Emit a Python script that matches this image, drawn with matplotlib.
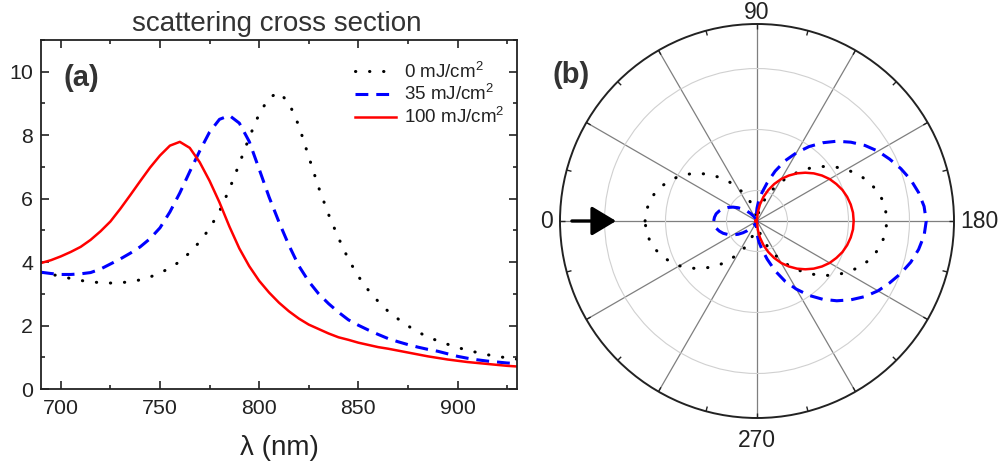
import numpy as np
import matplotlib
matplotlib.use("Agg")
import matplotlib.pyplot as plt
from matplotlib.ticker import MultipleLocator

plt.rcParams['font.family'] = ['Liberation Sans', 'DejaVu Sans']
plt.rcParams['mathtext.fontset'] = 'custom'
plt.rcParams['mathtext.rm'] = 'Liberation Sans'

# ---------------- data: panel (a) ----------------
wavelength = [690, 695, 700, 705, 710, 715, 720, 725, 730, 735, 740, 745, 750, 755,
              760, 765, 770, 775, 780, 785, 790, 795, 800, 805, 810, 815, 820, 825,
              830, 835, 840, 845, 850, 855, 860, 865, 870, 875, 880, 885, 890, 895,
              900, 905, 910, 915, 920, 925, 930]
sigma_0 = [3.66, 3.61, 3.56, 3.48, 3.42, 3.38, 3.35, 3.34, 3.35, 3.38, 3.44, 3.53, 3.66, 3.81,
           4.02, 4.30, 4.64, 5.06, 5.60, 6.30, 7.10, 7.93, 8.67, 9.18, 9.35, 9.02, 8.30, 7.32,
           6.35, 5.50, 4.76, 4.09, 3.55, 3.12, 2.76, 2.45, 2.21, 1.99, 1.80, 1.64, 1.52, 1.41,
           1.31, 1.22, 1.15, 1.08, 1.03, 0.98, 0.94]
sigma_35 = [3.68, 3.64, 3.61, 3.61, 3.63, 3.67, 3.78, 3.94, 4.10, 4.28, 4.48, 4.74, 5.08, 5.58,
            6.18, 6.85, 7.50, 8.10, 8.50, 8.62, 8.38, 7.80, 6.93, 6.05, 5.26, 4.53, 3.88, 3.39,
            3.00, 2.69, 2.42, 2.18, 2.01, 1.86, 1.72, 1.59, 1.49, 1.40, 1.32, 1.25, 1.19, 1.11,
            1.03, 0.97, 0.92, 0.88, 0.85, 0.82, 0.80]
sigma_100 = [3.97, 4.06, 4.18, 4.32, 4.48, 4.70, 4.97, 5.28, 5.68, 6.11, 6.55, 6.98, 7.36, 7.67,
             7.79, 7.60, 7.15, 6.56, 5.88, 5.12, 4.43, 3.87, 3.41, 3.04, 2.72, 2.45, 2.22, 2.03,
             1.89, 1.75, 1.63, 1.55, 1.46, 1.39, 1.32, 1.27, 1.21, 1.15, 1.09, 1.03, 0.98, 0.93,
             0.89, 0.85, 0.82, 0.79, 0.76, 0.73, 0.71]
labels = ['0 mJ/cm$^2$', '35 mJ/cm$^2$', '100 mJ/cm$^2$']

# ---------------- data: panel (b), angles 0..180 deg (pattern symmetric) ----------------
angle_half = list(range(0, 185, 5))
pol_0 = [3.67, 3.65, 3.58, 3.48, 3.33, 3.15, 2.94, 2.69, 2.43, 2.14, 1.85, 1.55, 1.25, 0.97,
         0.70, 0.45, 0.24, 0.08, 0.02,
         0.09, 0.26, 0.49, 0.77, 1.07, 1.41, 1.75, 2.10, 2.45, 2.78, 3.10, 3.38, 3.64, 3.86,
         4.03, 4.16, 4.23, 4.26]
pol_35 = [1.42, 1.40, 1.36, 1.28, 1.18, 1.05, 0.91, 0.76, 0.60, 0.45, 0.31, 0.19, 0.09, 0.03,
          0.00, 0.02, 0.08, 0.22, 0.42,
          0.68, 0.95, 1.30, 1.74, 2.18, 2.58, 2.98, 3.35, 3.70, 4.02, 4.32, 4.58, 4.80, 5.02,
          5.22, 5.38, 5.50, 5.55]
pol_100 = [0.05, 0.05, 0.05, 0.05, 0.05, 0.05, 0.04, 0.04, 0.04, 0.04, 0.03, 0.03, 0.03, 0.02,
           0.02, 0.02, 0.02, 0.02, 0.03,
           0.28, 0.55, 0.82, 1.08, 1.34, 1.59, 1.82, 2.04, 2.24, 2.43, 2.60, 2.75, 2.87, 2.98,
           3.06, 3.12, 3.16, 3.17]
polar_labels = ['0', '90', '180', '270']
spoke_angles = list(range(0, 360, 30))
minor_angles = list(range(15, 360, 30))


def full_circle(ang, r):
    a = list(ang) + [360 - v for v in ang[-2::-1]]
    rr = list(r) + list(r[-2::-1])
    return np.deg2rad(a), np.array(rr)


# ---------------- styles ----------------
dot_style = dict(color='black', lw=2.2, linestyle=(0, (0.1, 4.5)), dash_capstyle='round')
dash_style = dict(color='#0000ff', lw=2.2, linestyle=(0, (4.2, 2.6)))
solid_style = dict(color='#ff0000', lw=1.8)

W, H = 998, 461
fig = plt.figure(figsize=(W / 100, H / 100), dpi=100)

# ---------------- panel (a) ----------------
ax = fig.add_axes([41 / W, 1 - 389 / H, 476 / W, 349 / H])
ax.plot(wavelength, sigma_0, label=labels[0], **dot_style)
ax.plot(wavelength, sigma_35, label=labels[1], **dash_style)
ax.plot(wavelength, sigma_100, label=labels[2], **solid_style)
ax.set_xlim(690, 930)
ax.set_ylim(0, 11)
ax.xaxis.set_major_locator(MultipleLocator(50))
ax.xaxis.set_minor_locator(MultipleLocator(25))
ax.yaxis.set_major_locator(MultipleLocator(2))
ax.yaxis.set_minor_locator(MultipleLocator(1))
ax.tick_params(which='both', direction='in', top=True, right=True, color='#222222',
               labelsize=15.4, labelcolor='#222222')
ax.tick_params(which='major', length=6, width=1.2)
ax.tick_params(which='minor', length=3, width=1.2)
ax.tick_params(axis='x', pad=7.5)
ax.tick_params(axis='y', pad=5.5)
for s in ax.spines.values():
    s.set_linewidth(1.3)
    s.set_color('#222222')

leg = ax.legend(loc='upper left', bbox_to_anchor=(355 / W, 1 - 61 / H),
                bbox_transform=fig.transFigure, frameon=False, fontsize=13.5,
                handlelength=2.2, handletextpad=0.4, labelspacing=0.1, borderpad=0,
                borderaxespad=0)
for t in leg.get_texts():
    t.set_color('#222222')

fig.text(276.5 / W, 1 - 31 / H, 'scattering cross section', ha='center', va='baseline',
         fontsize=20, color='#333333')
fig.text(279 / W, 1 - 455 / H, 'λ (nm)', ha='center', va='baseline', fontsize=20,
         color='#222222')
fig.text(81 / W, 1 - 78 / H, '(a)', ha='center', va='center', fontsize=21,
         fontweight='bold', color='#333333')

# ---------------- panel (b) ----------------
rmax = 6.46
pax = fig.add_axes([560 / W, 1 - 418 / H, 394 / W, 394 / H], projection='polar')
pax.set_theta_zero_location('W')
pax.set_theta_direction(-1)
pax.set_rlim(0, rmax)
pax.set_rgrids([1, 3, 5], labels=['', '', ''])
pax.set_thetagrids(spoke_angles, labels=[''] * len(spoke_angles))
pax.xaxis.grid(True, color='#7f7f7f', lw=0.9)
pax.yaxis.grid(True, color='#d0d0d0', lw=0.8)
pax.tick_params(axis='x', which='both', length=0)
pax.spines['polar'].set_linewidth(1.4)
pax.spines['polar'].set_color('#222222')
# small inward ticks on the outer circle between the spokes
pax.vlines(np.deg2rad(minor_angles), rmax * 0.975, rmax, colors='#222222', lw=1.0)
pax.vlines(np.deg2rad(spoke_angles), rmax * 0.975, rmax, colors='#222222', lw=1.0)

th, rr = full_circle(angle_half, pol_0)
pax.plot(th, rr, **dot_style)
th, rr = full_circle(angle_half, pol_35)
pax.plot(th, rr, **dash_style)
th, rr = full_circle(angle_half, pol_100)
pax.plot(th, rr, **solid_style)
pax.set_rlim(0, rmax)

pax.annotate('', xy=(0, 4.62), xytext=(0, 6.07),
             arrowprops=dict(arrowstyle='-|>,head_length=0.75,head_width=0.45',
                             mutation_scale=20, lw=2.4, color='black',
                             shrinkA=0, shrinkB=0), annotation_clip=False)

lab_kw = dict(fontsize=16.5, color='#222222', transform=pax.transAxes, clip_on=False)
pax.text(-7 / 394, 0.5, polar_labels[0], ha='right', va='center', **lab_kw)
pax.text(0.5, 1 + 5 / 394, polar_labels[1], ha='center', va='baseline', **lab_kw)
pax.text(1 + 6 / 394, 0.5, polar_labels[2], ha='left', va='center', **lab_kw)
pax.text(0.5, -11 / 394, polar_labels[3], ha='center', va='top', **lab_kw)

fig.text(571 / W, 1 - 75 / H, '(b)', ha='center', va='center', fontsize=21,
         fontweight='bold', color='#333333')

fig.savefig('out.png', dpi=100)
